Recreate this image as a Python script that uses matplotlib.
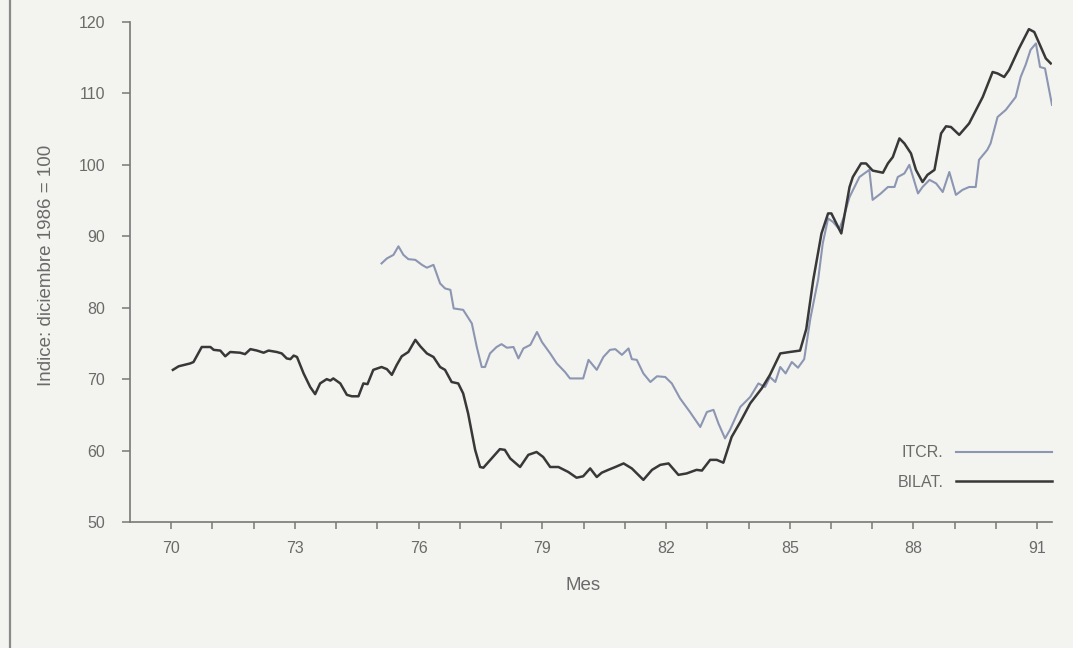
import matplotlib
matplotlib.use("Agg")
import matplotlib.pyplot as plt
from matplotlib.lines import Line2D

# ITCR (year, value)
itcr_year = [75.10, 75.23, 75.39, 75.51, 75.63, 75.75, 75.92, 76.08, 76.20, 76.36,
             76.52, 76.64, 76.77, 76.85, 77.08, 77.29, 77.41, 77.53, 77.61, 77.73,
             77.89, 78.01, 78.14, 78.30, 78.42, 78.54, 78.71, 78.87, 78.99, 79.19,
             79.35, 79.55, 79.67, 79.83, 79.99, 80.12, 80.32, 80.48, 80.64, 80.77,
             80.93, 81.09, 81.17, 81.29, 81.45, 81.62, 81.78, 81.98, 82.14, 82.34,
             82.58, 82.83, 82.99, 83.15, 83.27, 83.43, 83.55, 83.80, 84.04, 84.24,
             84.40, 84.52, 84.65, 84.77, 84.90, 85.05, 85.20, 85.35, 85.50, 85.69,
             85.80, 85.93, 86.05, 86.20, 86.30, 86.45, 86.69, 86.93, 87.01, 87.21,
             87.38, 87.54, 87.62, 87.78, 87.90, 87.99, 88.11, 88.22, 88.39, 88.55,
             88.71, 88.87, 89.03, 89.19, 89.35, 89.51, 89.59, 89.79, 89.87, 90.04,
             90.24, 90.48, 90.60, 90.72, 90.84, 90.97, 91.07, 91.19, 91.36]
itcr_val = [86.2, 86.9, 87.4, 88.6, 87.4, 86.8, 86.7, 86.0, 85.6, 86.0,
            83.4, 82.7, 82.5, 79.9, 79.7, 77.8, 74.5, 71.7, 71.7, 73.6,
            74.5, 74.9, 74.4, 74.5, 72.9, 74.3, 74.8, 76.6, 75.2, 73.6,
            72.2, 71.0, 70.1, 70.1, 70.1, 72.7, 71.3, 73.1, 74.1, 74.2,
            73.4, 74.3, 72.8, 72.7, 70.8, 69.6, 70.4, 70.3, 69.4, 67.3,
            65.4, 63.3, 65.4, 65.7, 63.8, 61.7, 62.9, 66.1, 67.5, 69.4,
            68.9, 70.3, 69.6, 71.7, 70.8, 72.4, 71.6, 72.8, 78.5, 84.0,
            89.0, 92.5, 92.0, 91.0, 92.5, 95.5, 98.3, 99.3, 95.1, 96.0,
            96.9, 96.9, 98.3, 98.8, 100.0, 98.3, 96.0, 96.9, 97.9, 97.4,
            96.2, 99.0, 95.8, 96.5, 96.9, 96.9, 100.7, 102.1, 103.0, 106.7,
            107.7, 109.5, 112.3, 114.0, 116.1, 117.0, 113.7, 113.5, 108.4]

# BILAT (year, value)
bilat_year = [70.04, 70.18, 70.46, 70.54, 70.74, 70.95, 71.03, 71.19, 71.31, 71.43,
              71.67, 71.79, 71.92, 72.08, 72.24, 72.36, 72.56, 72.68, 72.80, 72.89,
              72.97, 73.05, 73.21, 73.37, 73.49, 73.61, 73.77, 73.86, 73.93, 74.10,
              74.26, 74.38, 74.54, 74.66, 74.76, 74.90, 75.10, 75.23, 75.35, 75.47,
              75.59, 75.75, 75.92, 76.04, 76.20, 76.36, 76.52, 76.64, 76.80, 76.96,
              77.08, 77.20, 77.37, 77.49, 77.57, 77.77, 77.97, 78.09, 78.22, 78.46,
              78.66, 78.86, 79.02, 79.19, 79.39, 79.63, 79.83, 79.99, 80.16, 80.32,
              80.44, 80.60, 80.77, 80.97, 81.17, 81.45, 81.66, 81.86, 82.06, 82.30,
              82.50, 82.74, 82.87, 83.07, 83.23, 83.39, 83.59, 83.80, 84.04, 84.32,
              84.52, 84.77, 85.00, 85.25, 85.40, 85.57, 85.77, 85.93, 86.01, 86.25,
              86.45, 86.53, 86.73, 86.85, 87.01, 87.26, 87.38, 87.50, 87.66, 87.78,
              87.94, 88.06, 88.22, 88.34, 88.51, 88.67, 88.79, 88.91, 89.11, 89.35,
              89.68, 89.92, 90.04, 90.20, 90.32, 90.56, 90.80, 90.93, 91.09, 91.21,
              91.33]
bilat_val = [71.3, 71.8, 72.2, 72.4, 74.5, 74.5, 74.1, 74.0, 73.2, 73.8,
             73.7, 73.5, 74.2, 74.0, 73.7, 74.0, 73.8, 73.6, 72.9, 72.8,
             73.3, 73.1, 70.8, 68.9, 67.9, 69.4, 70.0, 69.8, 70.1, 69.4,
             67.8, 67.6, 67.6, 69.4, 69.3, 71.3, 71.7, 71.4, 70.6, 72.0,
             73.2, 73.8, 75.5, 74.6, 73.6, 73.1, 71.7, 71.3, 69.6, 69.4,
             68.0, 65.2, 60.1, 57.7, 57.6, 58.9, 60.2, 60.1, 58.9, 57.7,
             59.4, 59.8, 59.1, 57.7, 57.7, 57.0, 56.2, 56.4, 57.5, 56.3,
             56.9, 57.3, 57.7, 58.2, 57.5, 55.9, 57.3, 58.0, 58.2, 56.6,
             56.8, 57.3, 57.2, 58.7, 58.7, 58.3, 61.9, 64.0, 66.6, 68.7,
             70.6, 73.6, 73.8, 74.0, 77.0, 83.9, 90.4, 93.2, 93.2, 90.4,
             96.9, 98.3, 100.2, 100.2, 99.2, 98.9, 100.2, 101.1, 103.7, 103.0,
             101.6, 99.3, 97.6, 98.6, 99.3, 104.4, 105.4, 105.3, 104.2, 105.8,
             109.5, 113.0, 112.8, 112.3, 113.3, 116.3, 119.0, 118.6, 116.5, 114.9,
             114.2]

year_ticks = list(range(70, 92))
label_ticks = [70, 73, 76, 79, 82, 85, 88, 91]
y_ticks = [50, 60, 70, 80, 90, 100, 110, 120]

bg = "#f3f4ef"
grey = "#6a6a6a"
plt.rcParams["font.family"] = ["Liberation Sans", "DejaVu Sans"]

fig = plt.figure(figsize=(10.73, 6.48), dpi=100, facecolor=bg)
ax = fig.add_axes([130 / 1073, 1 - 522 / 648, 922 / 1073, 500 / 648])
ax.set_facecolor(bg)

ax.plot(itcr_year, itcr_val, color="#8c96b2", lw=1.5, label="ITCR.")
ax.plot(bilat_year, bilat_val, color="#383838", lw=1.8, label="BILAT.")

ax.set_xlim(69.0, 91.36)
ax.set_ylim(50, 120)
ax.set_xticks(label_ticks)
ax.set_xticks(year_ticks, minor=True)
ax.set_yticks(y_ticks)

for s in ["top", "right"]:
    ax.spines[s].set_visible(False)
for s in ["left", "bottom"]:
    ax.spines[s].set_color("#787878")
    ax.spines[s].set_linewidth(1.2)

ax.tick_params(axis="y", direction="out", length=6, width=1.1, color="#787878",
               labelcolor=grey, labelsize=11.5, pad=12)
ax.tick_params(axis="x", which="both", direction="out", length=5, width=1.1,
               color="#787878", labelcolor=grey, labelsize=11.5, pad=9)

fig.text(47 / 1073, 1 - 265 / 648, "Indice: diciembre 1986 = 100", rotation=90,
         ha="center", va="center", color=grey, fontsize=13.5)
fig.text(583 / 1073, 1 - 585 / 648, "Mes", ha="center", va="center",
         color=grey, fontsize=13.5)

ax.legend(loc="center right", bbox_to_anchor=(1052 / 1073, 1 - 467.5 / 648),
          bbox_transform=fig.transFigure, frameon=False, markerfirst=False,
          handlelength=6.0, handletextpad=0.8, labelspacing=0.9,
          borderpad=0, borderaxespad=0, fontsize=11.5, labelcolor=grey)

fig.add_artist(Line2D([10 / 1073, 10 / 1073], [0, 1], transform=fig.transFigure,
                      color="#8a8a8a", lw=1.6))

fig.savefig("out.png", dpi=100, facecolor=bg)
